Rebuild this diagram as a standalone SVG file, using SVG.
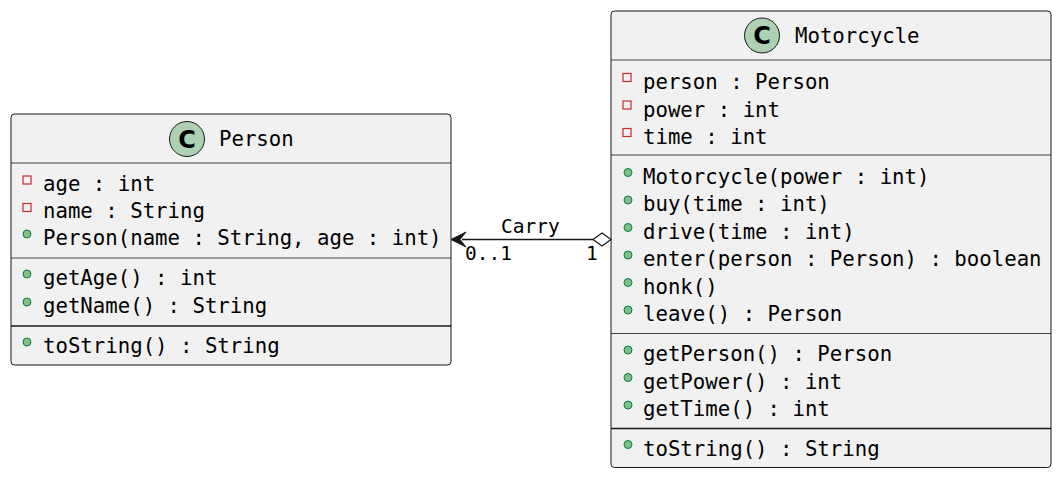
<svg xmlns="http://www.w3.org/2000/svg" width="1060" height="477" viewBox="0 0 1060 477">
<style>
.box{fill:#F1F1F1;stroke:#181818;stroke-width:1}
.sep{stroke:#181818;stroke-width:0.8}
.sep2{stroke:#181818;stroke-width:1.4}
.t{font-family:"DejaVu Sans Mono","Liberation Mono",monospace;font-size:20.7px;fill:#000}
.lbl{font-family:"DejaVu Sans Mono","Liberation Mono",monospace;font-size:19.5px;fill:#000}
.ci{fill:#ADD1B2;stroke:#181818;stroke-width:1}
.cl{font-family:"DejaVu Sans","Liberation Sans",sans-serif;font-size:24px;font-weight:bold;fill:#000}
.priv{fill:none;stroke:#C82930;stroke-width:1.2}
.pub{fill:#84BE84;stroke:#038048;stroke-width:1}
</style>
<rect width="1060" height="477" fill="#FFFFFF"/>
<g id="Person">
<rect class="box" x="11" y="114" width="440" height="251" rx="3.5"/>
<circle class="ci" cx="187" cy="139" r="17.5"/>
<text class="cl" x="187" y="147.5" text-anchor="middle">C</text>
<text class="t" x="219" y="146">Person</text>
<line class="sep" x1="11" y1="163" x2="451" y2="163"/>
<rect class="priv" x="23" y="176" width="8" height="8"/>
<text class="t" x="43" y="191">age : int</text>
<rect class="priv" x="23" y="203.5" width="8" height="8"/>
<text class="t" x="43" y="218">name : String</text>
<circle class="pub" cx="27" cy="234" r="4"/>
<text class="t" x="43" y="245">Person(name : String, age : int)</text>
<line class="sep" x1="11" y1="258" x2="451" y2="258"/>
<circle class="pub" cx="27" cy="274" r="4"/>
<text class="t" x="43" y="285">getAge() : int</text>
<circle class="pub" cx="27" cy="302" r="4"/>
<text class="t" x="43" y="313">getName() : String</text>
<line class="sep2" x1="11" y1="326" x2="451" y2="326"/>
<circle class="pub" cx="27" cy="342" r="4"/>
<text class="t" x="43" y="353">toString() : String</text>
</g>
<g id="Motorcycle">
<rect class="box" x="611" y="11" width="440" height="456.5" rx="3.5"/>
<circle class="ci" cx="762" cy="35.5" r="17.5"/>
<text class="cl" x="762" y="44" text-anchor="middle">C</text>
<text class="t" x="795" y="43">Motorcycle</text>
<line class="sep" x1="611" y1="60" x2="1051" y2="60"/>
<rect class="priv" x="623" y="73.5" width="8" height="8"/>
<text class="t" x="643" y="89">person : Person</text>
<rect class="priv" x="623" y="101" width="8" height="8"/>
<text class="t" x="643" y="116.5">power : int</text>
<rect class="priv" x="623" y="128.5" width="8" height="8"/>
<text class="t" x="643" y="143.5">time : int</text>
<line class="sep" x1="611" y1="155" x2="1051" y2="155"/>
<circle class="pub" cx="628" cy="172.5" r="4"/>
<text class="t" x="643" y="183.5">Motorcycle(power : int)</text>
<circle class="pub" cx="628" cy="200" r="4"/>
<text class="t" x="643" y="211">buy(time : int)</text>
<circle class="pub" cx="628" cy="227.5" r="4"/>
<text class="t" x="643" y="238.5">drive(time : int)</text>
<circle class="pub" cx="628" cy="255" r="4"/>
<text class="t" x="643" y="266">enter(person : Person) : boolean</text>
<circle class="pub" cx="628" cy="282.5" r="4"/>
<text class="t" x="643" y="293.5">honk()</text>
<circle class="pub" cx="628" cy="310" r="4"/>
<text class="t" x="643" y="321">leave() : Person</text>
<line class="sep" x1="611" y1="333.5" x2="1051" y2="333.5"/>
<circle class="pub" cx="628" cy="350" r="4"/>
<text class="t" x="643" y="361">getPerson() : Person</text>
<circle class="pub" cx="628" cy="377.5" r="4"/>
<text class="t" x="643" y="388.5">getPower() : int</text>
<circle class="pub" cx="628" cy="405" r="4"/>
<text class="t" x="643" y="416">getTime() : int</text>
<line class="sep2" x1="611" y1="428.5" x2="1051" y2="428.5"/>
<circle class="pub" cx="628" cy="444.5" r="4"/>
<text class="t" x="643" y="455.5">toString() : String</text>
</g>
<g id="connectors">
<line x1="462" y1="239.5" x2="593" y2="239.5" stroke="#181818" stroke-width="1.5"/>
<polygon points="451,239.5 466,232 460,239.5 466,247" fill="#181818" stroke="#181818" stroke-width="1"/>
<polygon points="593,239.5 602,233 611,239.5 602,246" fill="#FFFFFF" stroke="#181818" stroke-width="1.2"/>
<text class="lbl" x="501" y="233">Carry</text>
<text class="lbl" x="465" y="260">0..1</text>
<text class="lbl" x="586" y="260">1</text>
</g>
</svg>
